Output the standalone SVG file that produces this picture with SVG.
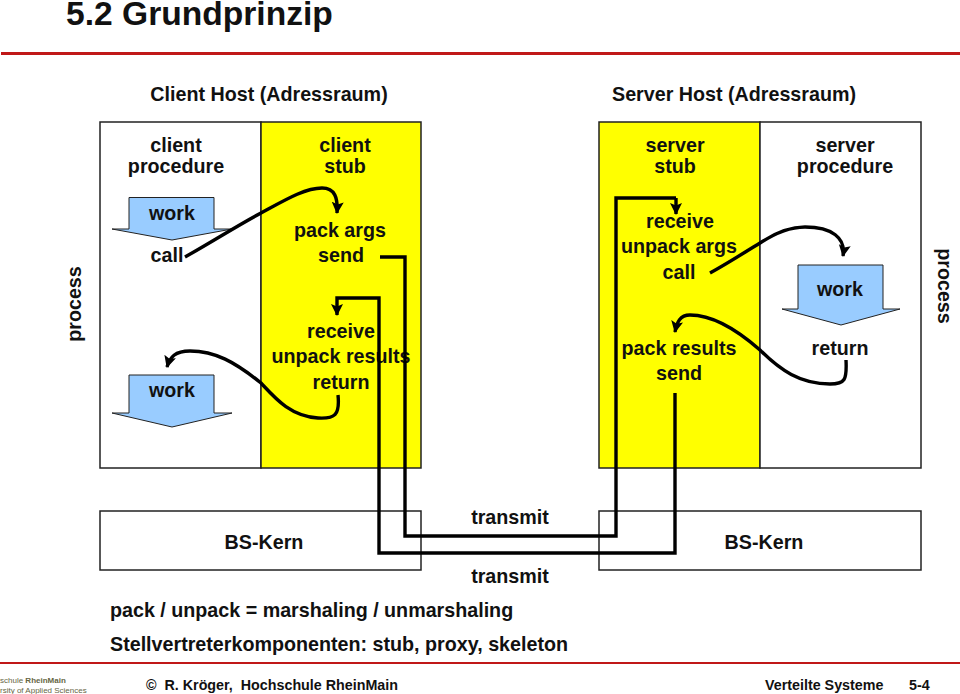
<svg xmlns="http://www.w3.org/2000/svg" width="960" height="694" viewBox="0 0 960 694">
<style>
text{font-family:"Liberation Sans",Arial,sans-serif;font-size:19.700px;font-weight:bold;fill:#111;text-anchor:middle}
.l{text-anchor:start}
.f{font-size:14.300px;white-space:pre}
.logo{font-size:8px;font-weight:normal;fill:#664}
.box{fill:#fff;stroke:#222;stroke-width:1.5}
.y{fill:#ff0;stroke:#222;stroke-width:1.5}
.c{fill:none;stroke:#000;stroke-width:3.4}
.a{fill:#99ccff;stroke:#222;stroke-width:1}
</style>
<defs>
<marker id="ah" markerUnits="userSpaceOnUse" markerWidth="14" markerHeight="14" refX="11" refY="6" orient="auto"><path d="M0 0L12 6L0 12L2.500 6Z" fill="#000"/></marker>
</defs>
<rect width="960" height="694" fill="#fff"/>
<text id="title" x="66" y="25" class="l" style="font-size:33.600px">5.2 Grundprinzip</text>
<rect x="1" y="52" width="959" height="3" fill="#c01818"/>
<rect x="0" y="662" width="960" height="2" fill="#c01818"/>
<g id="client-host">
<text x="269" y="101">Client Host (Adressraum)</text>
<rect class="box" x="100" y="122" width="161" height="346"/>
<rect class="y" x="261" y="122" width="160" height="346"/>
<text x="176" y="152">client</text><text x="176" y="173">procedure</text>
<text x="345" y="152">client</text><text x="345" y="173">stub</text>
</g>
<g id="server-host">
<text x="734" y="101">Server Host (Adressraum)</text>
<rect class="y" x="599" y="122" width="161" height="346"/>
<rect class="box" x="760" y="122" width="161" height="346"/>
<text x="675" y="152">server</text><text x="675" y="173">stub</text>
<text x="845" y="152">server</text><text x="845" y="173">procedure</text>
</g>
<g id="client-work-1"><path class="a" d="M129 197.500H214V229L232 229L172 240L112 229L129 229Z"/><text x="172" y="220">work</text></g>
<g id="client-work-2"><path class="a" d="M129 375H214V413L232 413L172 427L112 413L129 413Z"/><text x="172" y="397">work</text></g>
<g id="server-work"><path class="a" d="M798 265H883V309L900 309L841 325L782 309L798 309Z"/><text x="840" y="296">work</text></g>
<g id="client-labels">
<text x="167" y="262">call</text>
<text x="340" y="237">pack args</text><text x="341" y="262">send</text>
<text x="341" y="338">receive</text><text x="341" y="363">unpack results</text><text x="341" y="389">return</text>
<text transform="translate(81 304) rotate(-90)">process</text>
</g>
<g id="server-labels">
<text x="680" y="228">receive</text><text x="679" y="253">unpack args</text><text x="679" y="279">call</text>
<text x="679" y="355">pack results</text><text x="679" y="380">send</text>
<text x="840" y="355">return</text>
<text transform="translate(938 286) rotate(90)">process</text>
</g>
<g id="kernel-left"><rect class="box" x="100" y="511" width="321" height="59" style="fill:none"/><text x="264" y="549">BS-Kern</text></g>
<g id="kernel-right"><rect class="box" x="599" y="511" width="322" height="59" style="fill:none"/><text x="764" y="549">BS-Kern</text></g>
<g id="connectors">
<path class="c" marker-end="url(#ah)" d="M185 257C215 240 240 224 261 213C285 200 305 188 322 188C335 188 338 198 337 213"/>
<path class="c" d="M380 257H405V536H616V198H676"/>
<path class="c" marker-end="url(#ah)" d="M676 198V214"/>
<path class="c" marker-end="url(#ah)" d="M675 393V553H379V298H337V315"/>
<path class="c" marker-end="url(#ah)" d="M338 395C340 415 335 419 318 418C290 416 275 398 261 383C235 362 215 351 190 351C175 351 170 357 167 367"/>
<path class="c" marker-end="url(#ah)" d="M710 273C730 262 745 252 760 243C775 233 790 227 805 227C832 227 846 238 843 256"/>
<path class="c" marker-end="url(#ah)" d="M846 360C847 380 845 384 830 384C800 384 780 370 760 350C735 328 710 315 690 315C680 315 677 322 675 332"/>
</g>
<g id="notes">
<text x="510" y="524">transmit</text>
<text x="510" y="583">transmit</text>
<text x="110" y="617" class="l">pack / unpack = marshaling / unmarshaling</text>
<text x="110" y="651" class="l">Stellvertreterkomponenten: stub, proxy, skeleton</text>
</g>
<g id="footer">
<text x="0" y="683" class="l logo">schule <tspan font-weight="bold">RheinMain</tspan></text>
<text x="0" y="693" class="l logo">rsity of Applied Sciences</text>
<text x="146" y="690" class="l f">©  R. Kröger,  Hochschule RheinMain</text>
<text x="765" y="690" class="l f">Verteilte Systeme</text>
<text x="909" y="690" class="l f">5-4</text>
</g>
</svg>
